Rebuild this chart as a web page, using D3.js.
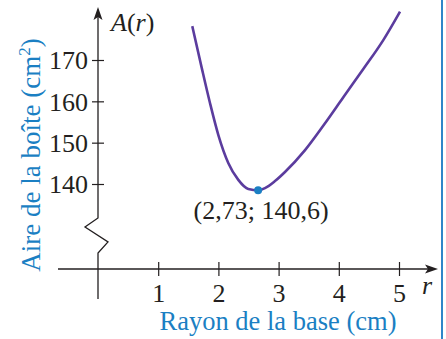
<!DOCTYPE html>
<html>
<head>
<meta charset="utf-8">
<script src="https://cdn.jsdelivr.net/npm/d3@7"></script>
<style>
  body { margin: 0; background: #fff; }
  svg text { font-family: "Liberation Serif", Tinos, "Times New Roman", "DejaVu Serif", serif; }
</style>
</head>
<body>
<div id="chart"></div>
<script>
// values
const radius = [1.566, 1.723, 1.86, 1.998, 2.164, 2.331, 2.497, 2.663, 2.774, 2.94, 3.106, 3.439, 3.771, 4.075, 4.407, 4.739, 5.017];
const area   = [178.2, 168.1, 159.6, 151.9, 145.1, 141.0, 138.8, 138.5, 139.0, 140.7, 142.9, 148.2, 154.7, 161.0, 167.8, 174.8, 181.7];
const xTicks = [1, 2, 3, 4, 5];
const yTicks = [140, 150, 160, 170];
const minPoint = { r: 2.66, a: 138.5, label: "(2,73; 140,6)" };

const width = 446, height = 339;
const ink = "#231f20", blue = "#1b7fc3", purple = "#5b3c9e";
const serif = '"Liberation Serif", Tinos, "Times New Roman", "DejaVu Serif", serif';

const svg = d3.select("#chart").append("svg")
    .attr("width", width)
    .attr("height", height);

const x = d3.scaleLinear().domain([0, 5]).range([98, 399]);
const y = d3.scaleLinear().domain([140, 170]).range([184, 60]);
const xAxisY = 269;

// right frame edge
svg.append("line")
    .attr("x1", 442).attr("x2", 442).attr("y1", 0).attr("y2", height)
    .attr("stroke", "#2f86c9").attr("stroke-width", 2);

// x axis
const gx = svg.append("g")
    .attr("transform", `translate(0,${xAxisY})`)
    .call(d3.axisBottom(x).tickValues(xTicks).tickFormat(d3.format("d")))
    .attr("font-family", serif);
gx.select(".domain").remove();
gx.selectAll(".tick line").attr("y1", -7).attr("y2", 7).attr("stroke", ink).attr("stroke-width", 1.2);
gx.selectAll(".tick text")
    .attr("y", 33).attr("dy", 0)
    .attr("fill", ink)
    .style("font-size", "26px");

svg.append("line")
    .attr("x1", 58).attr("x2", 430).attr("y1", xAxisY).attr("y2", xAxisY)
    .attr("stroke", ink).attr("stroke-width", 1.3);
svg.append("path")
    .attr("d", `M438,${xAxisY} L425,${xAxisY - 4.5} L428,${xAxisY} L425,${xAxisY + 4.5} Z`)
    .attr("fill", ink);

// y axis with break
const x0 = x(0);
const gy = svg.append("g")
    .attr("transform", `translate(${x0},0)`)
    .call(d3.axisLeft(y).tickValues(yTicks).tickFormat(d3.format("d")))
    .attr("font-family", serif);
gy.select(".domain").remove();
gy.selectAll(".tick line").attr("x1", -6).attr("x2", 6).attr("stroke", ink).attr("stroke-width", 1.2);
gy.selectAll(".tick text")
    .attr("x", -10).attr("dy", "0.34em")
    .attr("fill", ink)
    .style("font-size", "26px");

const yAxisPath = d3.path();
yAxisPath.moveTo(x0, 299);
yAxisPath.lineTo(x0, 253);
yAxisPath.lineTo(x0 + 10, 242);
yAxisPath.lineTo(x0 - 13, 227);
yAxisPath.lineTo(x0, 218);
yAxisPath.lineTo(x0, 16);
svg.append("path")
    .attr("d", yAxisPath.toString())
    .attr("fill", "none").attr("stroke", ink).attr("stroke-width", 1.3);
svg.append("path")
    .attr("d", `M${x0},7 L${x0 - 4.5},20 L${x0},17 L${x0 + 4.5},20 Z`)
    .attr("fill", ink);

// axis names
const aLabel = svg.append("text")
    .attr("x", 111).attr("y", 31)
    .attr("fill", ink)
    .style("font-size", "26px");
aLabel.append("tspan").style("font-style", "italic").text("A");
aLabel.append("tspan").text("(");
aLabel.append("tspan").style("font-style", "italic").text("r");
aLabel.append("tspan").text(")");

svg.append("text")
    .attr("x", 422).attr("y", 294)
    .attr("fill", ink)
    .style("font-size", "26px")
    .style("font-style", "italic")
    .text("r");

svg.append("text")
    .attr("x", 278).attr("y", 330)
    .attr("text-anchor", "middle")
    .attr("fill", blue)
    .style("font-size", "26.5px")
    .text("Rayon de la base (cm)");

const yTitle = svg.append("text")
    .attr("transform", "translate(40,155) rotate(-90)")
    .attr("text-anchor", "middle")
    .attr("fill", blue)
    .style("font-size", "27px");
yTitle.append("tspan").text("Aire de la boîte (cm");
yTitle.append("tspan").attr("dy", -10).style("font-size", "17px").text("2");
yTitle.append("tspan").attr("dy", 10).text(")");

// curve
const pts = radius.map((r, i) => [r, area[i]]);
const line = d3.line()
    .x(d => x(d[0]))
    .y(d => y(d[1]))
    .curve(d3.curveMonotoneX);
svg.append("path")
    .datum(pts)
    .attr("d", line)
    .attr("fill", "none")
    .attr("stroke", purple)
    .attr("stroke-width", 2.6);

svg.append("circle")
    .attr("cx", x(minPoint.r)).attr("cy", y(minPoint.a))
    .attr("r", 4)
    .attr("fill", blue);

svg.append("text")
    .attr("x", x(minPoint.r) + 3).attr("y", 219)
    .attr("text-anchor", "middle")
    .attr("fill", ink)
    .style("font-size", "26px")
    .text(minPoint.label);
</script>
</body>
</html>
